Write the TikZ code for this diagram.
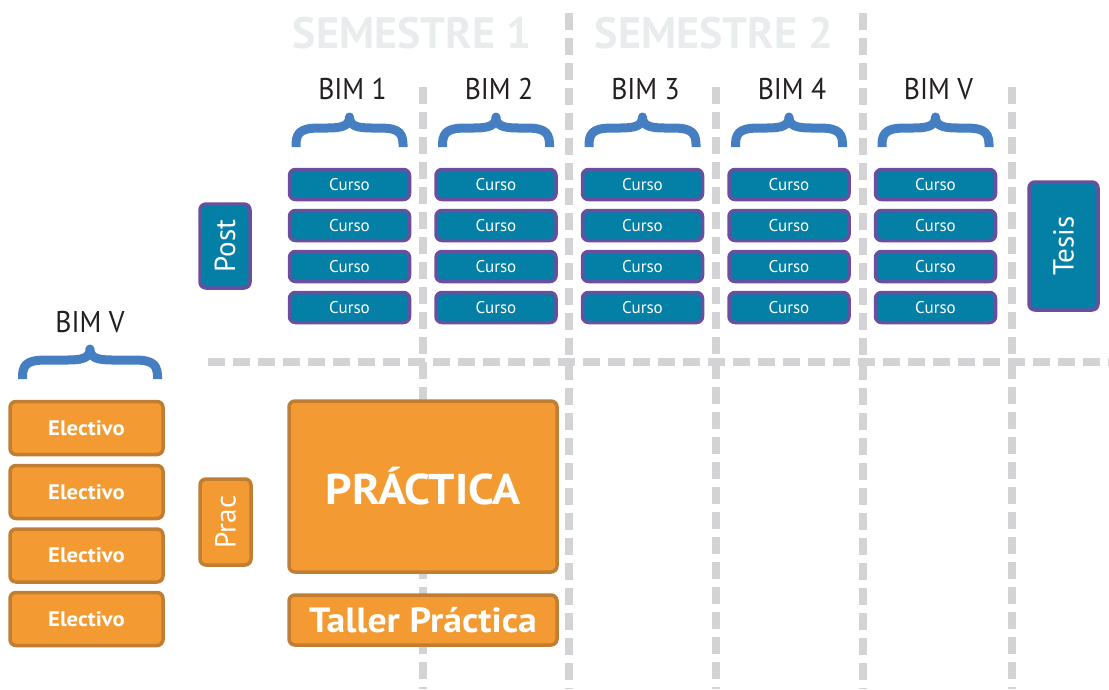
\documentclass[tikz,border=0pt]{standalone}
\usepackage{fontspec}
\setmainfont{PT Sans}
\newfontfamily\ancha{PT Sans}[FakeStretch=1.08]
\newfontfamily\estrecha{PT Sans}[FakeStretch=0.92]
\pgfdeclarelayer{fondo}
\pgfsetlayers{fondo, main}
\definecolor{azulcurso}{RGB}{4,127,165}
\definecolor{moradoborde}{RGB}{106,79,160}
\definecolor{naranja}{RGB}{243,155,50}
\definecolor{naranjaborde}{RGB}{192,125,52}
\definecolor{azulllave}{RGB}{70,127,193}
\definecolor{grisrejilla}{RGB}{211,211,213}
\definecolor{grissemestre}{RGB}{233,236,237}
\definecolor{negrobim}{RGB}{35,31,32}
\tikzstyle{curso}=[rectangle,rounded corners=6,draw=moradoborde,fill=azulcurso,line width=3.5,minimum width=120,minimum height=30,inner sep=0pt,text=white,font=\fontsize{17}{17}\selectfont]
\tikzstyle{vertical}=[curso,font=\fontsize{29}{29}\selectfont,rotate=90]
\tikzstyle{electivo}=[rectangle,rounded corners=6,draw=naranjaborde,fill=naranja,line width=3.5,minimum width=153,minimum height=53,inner sep=0pt,text=white,font=\ancha\bfseries\fontsize{21}{21}\selectfont]
\tikzstyle{prac}=[electivo,font=\fontsize{29}{29}\selectfont,rotate=90]
\tikzstyle{bim}=[anchor=base,text=negrobim,font=\estrecha\fontsize{30}{30}\selectfont]
\tikzstyle{semestre}=[anchor=base,text=grissemestre,font=\bfseries\fontsize{44}{44}\selectfont]
\tikzstyle{llave}=[draw=azulllave,line width=9,line join=round]
\tikzstyle{rejilla}=[draw=grisrejilla,line width=7.5,dash pattern=on 17 off 8]

\begin{document}
\begin{tikzpicture}[x=1pt,y=-1pt]
		\useasboundingbox (0,0) rectangle (1109,689);
		\begin{pgfonlayer}{fondo}
			\foreach \xg/\yg in {423/87, 569/13, 716/87, 863/13, 1012/87}
				\draw[rejilla] (\xg,\yg) -- (\xg,689);
			\draw[rejilla] (208,362) -- (1109,362);
		\end{pgfonlayer}
		\node[semestre] (sem1) at (412,48) {SEMESTRE 1};
		\node[semestre] (sem2) at (714,48) {SEMESTRE 2};
		\foreach \xc/\yb/\w in {349.5/147/53.5, 496/147/53.5, 642.5/147/53.5, 789/147/53.5, 935.5/147/53.5, 90/379/67.5}
			\draw[llave] (\xc-\w,\yb) -- (\xc-\w,\yb-3) .. controls (\xc-\w,\yb-17) and (\xc-\w+9,\yb-19) .. (\xc-\w+24,\yb-19) -- (\xc-22,\yb-19) .. controls (\xc-8,\yb-19) and (\xc,\yb-21) .. (\xc,\yb-30) .. controls (\xc,\yb-21) and (\xc+8,\yb-19) .. (\xc+22,\yb-19) -- (\xc+\w-24,\yb-19) .. controls (\xc+\w-9,\yb-19) and (\xc+\w,\yb-17) .. (\xc+\w,\yb-3) -- (\xc+\w,\yb);
		\foreach \c/\xc/\nombre in {1/349.5/BIM 1, 2/496/BIM 2, 3/642.5/BIM 3, 4/789/BIM 4, 5/935.5/BIM V} {
			\node[bim] (bim\c) at (\xc+3,99) {\nombre};
			\foreach \r/\yr in {1/184.5, 2/225.5, 3/266.5, 4/307.5}
				\node[curso] (curso\c\r) at (\xc,\yr) {Curso};
		}
		\node[vertical,minimum width=84,minimum height=50] (post) at (225,246) {Post};
		\node[vertical,minimum width=128,minimum height=69] (tesis) at (1063.5,246) {Tesis};
		\node[bim] (bimv) at (90,332) {BIM V};
		\foreach \r/\yr in {1/428, 2/492, 3/555.5, 4/619}
			\node[electivo] (electivo\r) at (86.5,\yr) {Electivo};
		\node[prac,minimum width=86,minimum height=51] (prac) at (225.5,522) {Prac};
		\node[electivo,minimum width=268,minimum height=171,font=\ancha\bfseries\fontsize{43}{43}\selectfont] (practica) at (423,486.5) {PRÁCTICA};
		\node[electivo,minimum width=268,minimum height=50,font=\ancha\bfseries\fontsize{35}{35}\selectfont] (taller) at (423,620) {Taller Práctica};
	\end{tikzpicture}
\end{document}
